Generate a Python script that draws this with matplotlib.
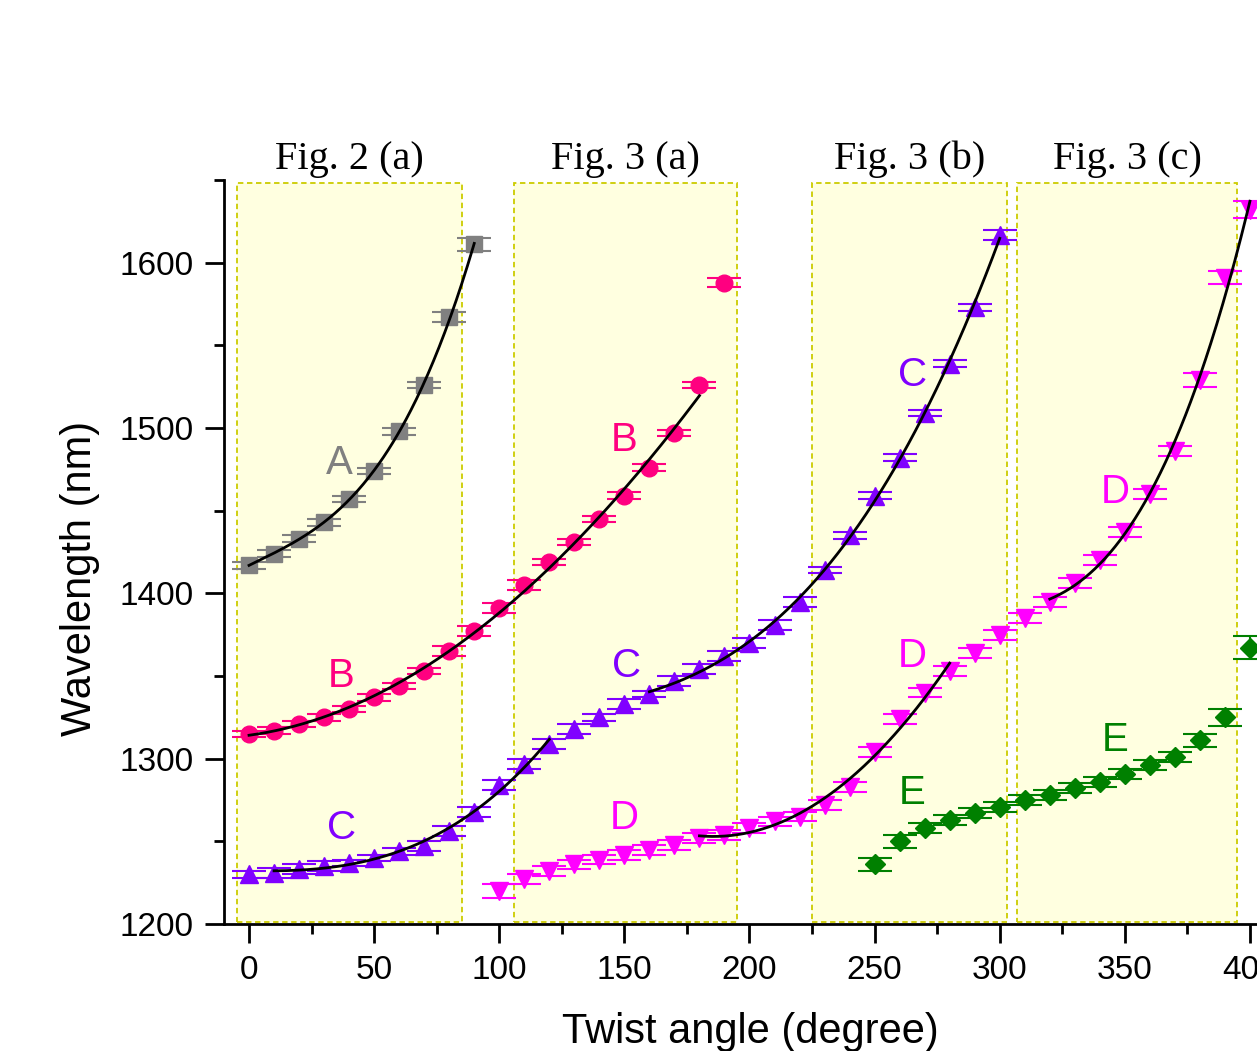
import numpy as np
import matplotlib
matplotlib.use('Agg')
import matplotlib.pyplot as plt
from matplotlib.patches import Rectangle

# ---- data (twist angle in degree, wavelength in nm) ----
a_angle = [0, 10, 20, 30, 40, 50, 60, 70, 80, 90]
a_wl = [1417, 1424, 1433, 1443, 1457, 1474, 1498, 1526, 1567, 1611]
a_err = [2, 2, 2, 2, 2, 2, 2, 2, 3, 4]

b_angle = [0, 10, 20, 30, 40, 50, 60, 70, 80, 90, 100, 110, 120, 130, 140, 150, 160, 170, 180, 190]
b_wl = [1315, 1317, 1321, 1325, 1330, 1337, 1344, 1353, 1365, 1377, 1391, 1405, 1419,
        1431, 1445, 1459, 1476, 1497, 1526, 1588]
b_err = [2, 2, 2, 2, 2, 2, 2, 2, 3, 3, 3, 3, 2, 2, 2, 2, 2, 2, 2, 3]

c_angle = [0, 10, 20, 30, 40, 50, 60, 70, 80, 90, 100, 110, 120, 130, 140, 150, 160, 170, 180,
           190, 200, 210, 220, 230, 240, 250, 260, 270, 280, 290, 300]
c_wl = [1230, 1231, 1233, 1235, 1237, 1240, 1244, 1247, 1256, 1268, 1284, 1297, 1309, 1318,
        1325, 1333, 1339, 1347, 1354, 1362, 1370, 1381, 1395, 1414, 1435, 1459, 1482, 1509,
        1539, 1573, 1617]
c_err = [2, 3, 3, 3, 2, 2, 2, 3, 3, 3, 3, 3, 3, 3, 2, 3, 2, 3, 3, 3, 3, 3, 3, 2, 2, 2, 2,
         2, 2, 2, 3]

d_angle = [100, 110, 120, 130, 140, 150, 160, 170, 180, 190, 200, 210, 220, 230, 240, 250,
           260, 270, 280, 290, 300, 310, 320, 330, 340, 350, 360, 370, 380, 390, 400]
d_wl = [1220, 1227, 1232, 1236, 1239, 1242, 1245, 1248, 1252, 1254, 1258, 1262, 1265, 1272,
        1283, 1304, 1324, 1340, 1353, 1364, 1375, 1385, 1395, 1406, 1420, 1437, 1460, 1486,
        1529, 1591, 1632]
d_err = [4, 3, 3, 3, 3, 3, 3, 3, 3, 3, 3, 3, 3, 3, 3, 3, 3, 3, 3, 3, 3, 3, 3, 3, 3, 3, 3,
         3, 4, 4, 5]

e_angle = [250, 260, 270, 280, 290, 300, 310, 320, 330, 340, 350, 360, 370, 380, 390, 400]
e_wl = [1236, 1250, 1258, 1263, 1267, 1271, 1275, 1278, 1282, 1286, 1291, 1296, 1301, 1311,
        1325, 1367]
e_err = [4, 4, 3, 3, 3, 3, 3, 3, 3, 3, 3, 3, 3, 4, 5, 7]

# angle ranges and polynomial degree of the fits (black curves)
fit_ranges = {'A': [(0, 90, 3)], 'B': [(0, 180, 3)], 'C': [(10, 120, 3), (160, 300, 3)],
              'D': [(180, 280, 2), (320, 400, 3)]}

# shaded windows taken from the individual figures
panel_names = ['Fig. 2 (a)', 'Fig. 3 (a)', 'Fig. 3 (b)', 'Fig. 3 (c)']
panel_start = [-5, 106, 225, 307]
panel_end = [85, 195, 303, 395]

# curve labels: text, angle, wavelength
label_text = ['A', 'B', 'B', 'C', 'C', 'C', 'D', 'D', 'D', 'E', 'E']
label_x = [36, 37, 150, 37, 151, 265, 150, 265, 346, 265, 346]
label_y = [1479, 1350, 1493, 1258, 1356, 1532, 1264, 1362, 1461, 1279, 1311]

colors = {'A': '#808080', 'B': '#FF0080', 'C': '#8000FF', 'D': '#FF00FF', 'E': '#008000'}
markers = {'A': ('s', 11.5), 'B': ('o', 12), 'C': ('^', 13), 'D': ('v', 13), 'E': ('D', 10.5)}

series = {'A': (a_angle, a_wl, a_err), 'B': (b_angle, b_wl, b_err), 'C': (c_angle, c_wl, c_err),
          'D': (d_angle, d_wl, d_err), 'E': (e_angle, e_wl, e_err)}

plt.rcParams['font.family'] = ['Liberation Sans', 'DejaVu Sans']

fig = plt.figure(figsize=(12.57, 10.51), dpi=100)
ax = fig.add_axes([224 / 1257, 127 / 1051, 1076 / 1257, 744 / 1051])
ax.set_xlim(-10, 420)
ax.set_ylim(1200, 1650)

# shaded panels
for name, x0, x1 in zip(panel_names, panel_start, panel_end):
    ax.add_patch(Rectangle((x0, 1201), x1 - x0, 447, facecolor='#FFFFE0', edgecolor='#CCCC00',
                           linestyle=(0, (3, 2)), linewidth=1.3, zorder=0))
    ax.text((x0 + x1) / 2, 1651, name, ha='center', va='bottom', fontsize=29,
            family='Liberation Serif', clip_on=False)

# data with error bars
for key, (x, y, e) in series.items():
    m, ms = markers[key]
    ax.errorbar(x, y, yerr=e, fmt=m, markersize=ms, color=colors[key], ecolor=colors[key],
                elinewidth=1.5, capsize=12, capthick=1.5, zorder=3)

# polynomial fits
for key, ranges in fit_ranges.items():
    x = np.array(series[key][0], dtype=float)
    y = np.array(series[key][1], dtype=float)
    for lo, hi, deg in ranges:
        sel = (x >= lo) & (x <= hi)
        coef = np.polyfit(x[sel], y[sel], deg)
        xx = np.linspace(lo, hi, 200)
        ax.plot(xx, np.polyval(coef, xx), color='black', linewidth=2, zorder=4)

for t, x, y in zip(label_text, label_x, label_y):
    ax.text(x, y, t, color=colors[t], fontsize=29, ha='center', va='center', zorder=5)

# axes style
ax.spines['top'].set_visible(False)
ax.spines['right'].set_visible(False)
ax.spines['left'].set_linewidth(2)
ax.spines['bottom'].set_linewidth(2)
ax.set_xticks(np.arange(0, 401, 50))
ax.set_xticks(np.arange(25, 401, 50), minor=True)
ax.set_yticks(np.arange(1200, 1601, 100))
ax.set_yticks(np.arange(1250, 1651, 100), minor=True)
ax.tick_params(which='major', direction='out', length=14, width=2, labelsize=24, pad=8)
ax.tick_params(which='minor', direction='out', length=7, width=2)

ax.set_xlabel('Twist angle (degree)', fontsize=30)
ax.set_ylabel('Wavelength (nm)', fontsize=30)
# the original figure is cropped on the right, so place the axis titles by hand
ax.xaxis.set_label_coords((750 - 224) / 1076, -0.118)
ax.yaxis.set_label_coords((100 - 224) / 1076, (924 - 578) / 744)

fig.savefig('out.png', dpi=100)
